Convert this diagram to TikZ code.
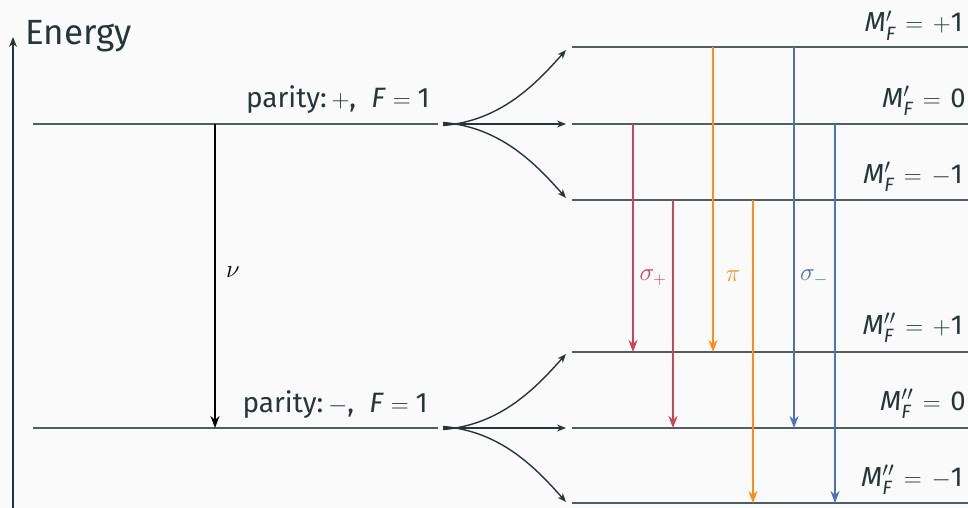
\documentclass[tikz,border=0pt]{standalone}
\usepackage{amsmath}
\usepackage{fontspec}
\setmainfont{Fira Sans}
\usetikzlibrary{arrows.meta}

\definecolor{bgc}{HTML}{FAFAFA}
\definecolor{ink}{HTML}{23373B}
\definecolor{lvl}{HTML}{4F5F61}
\definecolor{sigp}{HTML}{CC4552}
\definecolor{pic}{HTML}{FF8C1A}
\definecolor{sigm}{HTML}{4C72B8}

% level labels M'_F and M''_F
\newcommand\mlab[3]{\textit{M}$^{#1}_{\text{\itshape F}}\mkern2mu=\mkern2mu{#2}$#3}

\tikzset{
  level/.style={draw=lvl, line width=1.8pt},
  fan/.style={draw=ink, line width=1.4pt, -{Stealth[length=9pt,width=7pt]}},
  trans/.style={line width=1.8pt, -{Stealth[length=12pt,width=9pt]}},
  lab/.style={anchor=base east, text=ink, inner sep=0pt},
  greek/.style={font=\fontsize{24}{28}\selectfont, inner sep=0pt}
}

\begin{document}
\begin{tikzpicture}[x=1pt, y=-1pt, font=\fontsize{27.5}{30}\selectfont]
\fill[bgc] (0,0) rectangle (968,508);
\useasboundingbox (0,0) rectangle (968,508);

% energy axis
\coordinate (ax0) at (13,508);
\coordinate (ax1) at (13,37);
\draw[draw=ink, line width=1.8pt, -{Stealth[length=10pt,width=8pt]}] (ax0) -- (ax1);
\node[anchor=base west, text=ink, inner sep=0pt, font=\fontsize{35}{40}\selectfont] (energy) at (25,45) {Energy};

% unsplit levels
\coordinate (uL) at (33,124);  \coordinate (uR) at (438,124);
\coordinate (lL) at (33,428);  \coordinate (lR) at (438,428);
\draw[level] (uL) -- (uR);
\draw[level] (lL) -- (lR);
\node[lab, font=\fontsize{28}{30}\selectfont] (uplab) at (430,108) {parity:\,$+$,\; \textit{F}$\;=\;$1};
\node[lab, font=\fontsize{28}{30}\selectfont] (lolab) at (428,412) {parity:\,$-$,\; \textit{F}$\;=\;$1};

% split sublevels
\foreach \n/\y in {a1/47, a2/124, a3/200, b1/352, b2/428, b3/503}{
  \coordinate (\n s) at (572,\y);
  \coordinate (\n e) at (968,\y);
  \draw[level] (\n s) -- (\n e);
}

% labels of the sublevels
\node[lab] (la1) at (963,32)  {\mlab{\prime}{+}{1}};
\node[lab] (la2) at (966,107) {\mlab{\prime}{}{0}};
\node[lab] (la3) at (963,183) {\mlab{\prime}{-}{1}};
\node[lab] (lb1) at (963,334) {\mlab{\prime\prime}{+}{1}};
\node[lab] (lb2) at (966,410) {\mlab{\prime\prime}{}{0}};
\node[lab] (lb3) at (963,486) {\mlab{\prime\prime}{-}{1}};

% splitting fans
\coordinate (uF) at (443,124);
\coordinate (lF) at (443,428);
\draw[fan] ([yshift=-1.5pt]uF) .. controls (500,121) and (535,85) .. (566,50);
\draw[fan] (uF) -- (566,124);
\draw[fan] ([yshift=1.5pt]uF) .. controls (500,127) and (535,163) .. (566,198);
\draw[fan] ([yshift=-1.5pt]lF) .. controls (500,425) and (535,389) .. (566,354);
\draw[fan] (lF) -- (566,428);
\draw[fan] ([yshift=1.5pt]lF) .. controls (500,431) and (535,467) .. (566,502);

% transitions
\coordinate (n0) at (215,124); \coordinate (n1) at (215,428);
\draw[trans, draw=black] (n0) -- (n1);
\node[greek, text=black] (nu) at (233,272) {$\nu$};

\coordinate (r0) at (633,124); \coordinate (r1) at (633,352);
\coordinate (r2) at (673,200); \coordinate (r3) at (673,428);
\draw[trans, draw=sigp] (r0) -- (r1);
\draw[trans, draw=sigp] (r2) -- (r3);
\node[greek, text=sigp] (sp) at (653,278) {$\sigma_+$};

\coordinate (o0) at (713,47);  \coordinate (o1) at (713,352);
\coordinate (o2) at (753,200); \coordinate (o3) at (753,503);
\draw[trans, draw=pic] (o0) -- (o1);
\draw[trans, draw=pic] (o2) -- (o3);
\node[greek, text=pic] (pp) at (733,276) {$\pi$};

\coordinate (m0) at (794,47);  \coordinate (m1) at (794,428);
\coordinate (m2) at (835,124); \coordinate (m3) at (835,503);
\draw[trans, draw=sigm] (m0) -- (m1);
\draw[trans, draw=sigm] (m2) -- (m3);
\node[greek, text=sigm] (sm) at (814,278) {$\sigma_-$};
\end{tikzpicture}
\end{document}
